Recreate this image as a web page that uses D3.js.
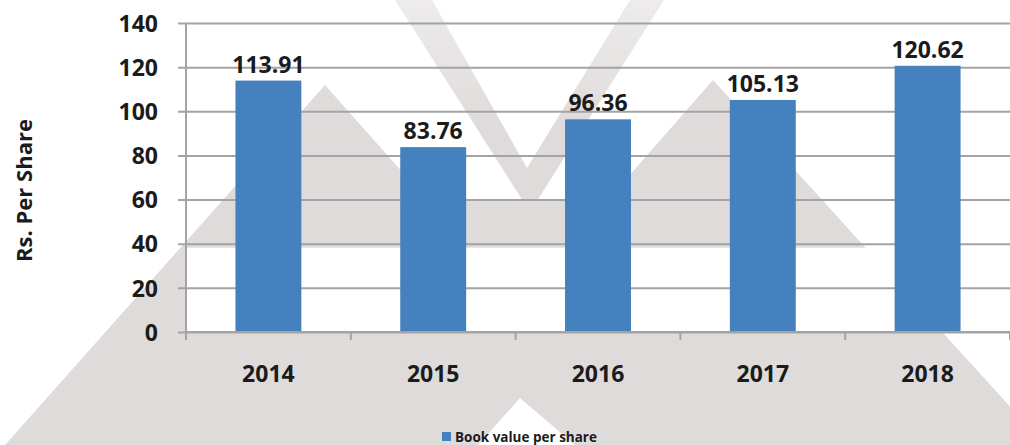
<!DOCTYPE html>
<html>
<head>
<meta charset="utf-8">
<script src="https://cdn.jsdelivr.net/npm/d3@7"></script>
<style>
  html, body { margin: 0; padding: 0; background: #ffffff; }
  svg { display: block; }
  text { font-family: "Open Sans", "Liberation Sans", sans-serif; font-weight: 700; fill: #1b1b1b; }
</style>
</head>
<body>
<div id="chart"></div>
<script>
// ---- data ----
const categories = ["2014", "2015", "2016", "2017", "2018"];
const values = [113.91, 83.76, 96.36, 105.13, 120.62];
const valueLabels = ["113.91", "83.76", "96.36", "105.13", "120.62"];
const yTicks = [0, 20, 40, 60, 80, 100, 120, 140];
const seriesName = "Book value per share";
const yTitle = "Rs. Per Share";

// ---- layout ----
const W = 1010, H = 445;
const plot = { left: 186, right: 1010, top: 23, bottom: 332 };
const barColor = "#4580bf";
const gridColor = "#a3a3a3";
const wmColor = "#dfdbdb";

const svg = d3.select("#chart").append("svg")
  .attr("width", W).attr("height", H);

// ---- background watermark (decorative) ----
const wm = svg.append("g");
const shapes = [
  // left mountain
  [[325, 85], [5, 445], [645, 445]],
  // right mountain
  [[713, 80], [393, 445], [1045, 445]],
  // connecting band under V
  [[430, 200], [600, 200], [600, 250], [430, 250]]
];
shapes.forEach(p => wm.append("polygon")
  .attr("points", p.map(d => d.join(",")).join(" "))
  .attr("fill", wmColor));
// thick V, fading toward the top
const defs = svg.append("defs");
const grad = defs.append("linearGradient").attr("id", "vfade")
  .attr("x1", 0).attr("y1", 0).attr("x2", 0).attr("y2", 1);
grad.append("stop").attr("offset", "0%").attr("stop-color", wmColor).attr("stop-opacity", 0.55);
grad.append("stop").attr("offset", "60%").attr("stop-color", wmColor).attr("stop-opacity", 1);
wm.append("polygon")
  .attr("points", "395,0 432,0 527,168 630,0 664,0 530,212")
  .attr("fill", "url(#vfade)");
// white wedge at bottom centre
wm.append("polygon").attr("points", "520,398 478,445 575,445").attr("fill", "#ffffff");

// ---- scales ----
const x = d3.scaleBand().domain(categories)
  .range([plot.left, plot.right]).paddingInner(0.6).paddingOuter(0.3);
const y = d3.scaleLinear().domain([0, 140]).range([plot.bottom, plot.top]);

// white lower plot band
svg.append("rect")
  .attr("x", plot.left).attr("y", y(40) + 4)
  .attr("width", plot.right - plot.left).attr("height", y(0) - y(40) - 4)
  .attr("fill", "#ffffff");

// ---- gridlines + y axis ----
const yAxis = d3.axisLeft(y).tickValues(yTicks)
  .tickSize(-(plot.right - plot.left + 8)).tickPadding(20).tickFormat(d3.format("d"));
const gy = svg.append("g")
  .attr("transform", `translate(${plot.left - 8},0)`)
  .call(yAxis);
gy.select(".domain").remove();
gy.selectAll(".tick line").attr("stroke", gridColor).attr("stroke-width", 2);
gy.selectAll(".tick text")
  .attr("x", -20).attr("dy", "0.36em")
  .style("font-size", "23px").attr("fill", "#1b1b1b");

// y axis line
svg.append("line")
  .attr("x1", plot.left).attr("x2", plot.left)
  .attr("y1", plot.top).attr("y2", plot.bottom + 8)
  .attr("stroke", gridColor).attr("stroke-width", 2);

// ---- bars ----
svg.append("g").selectAll("rect").data(values).join("rect")
  .attr("x", (d, i) => x(categories[i]))
  .attr("y", d => y(d))
  .attr("width", x.bandwidth())
  .attr("height", d => y(0) - y(d))
  .attr("fill", barColor);

// value labels
svg.append("g").selectAll("text").data(values).join("text")
  .attr("x", (d, i) => x(categories[i]) + x.bandwidth() / 2)
  .attr("y", d => y(d) - 8)
  .attr("text-anchor", "middle")
  .style("font-size", "23px")
  .text((d, i) => valueLabels[i]);

// ---- x axis ----
const step = x.step();
const boundaries = d3.range(categories.length + 1).map(i => plot.left + i * step);
svg.append("line")
  .attr("x1", plot.left).attr("x2", plot.right)
  .attr("y1", y(0)).attr("y2", y(0))
  .attr("stroke", gridColor).attr("stroke-width", 2);
svg.append("g").selectAll("line").data(boundaries).join("line")
  .attr("x1", d => d).attr("x2", d => d)
  .attr("y1", y(0)).attr("y2", y(0) + 8)
  .attr("stroke", gridColor).attr("stroke-width", 2);
const xAxis = d3.axisBottom(x).tickSize(0).tickPadding(0);
const gx = svg.append("g").attr("transform", `translate(0,${y(0)})`).call(xAxis);
gx.select(".domain").remove();
gx.selectAll(".tick text")
  .attr("y", 50).attr("dy", 0)
  .style("font-size", "23px").attr("fill", "#1b1b1b");

// ---- y title ----
svg.append("text")
  .attr("transform", `translate(32,${(118 + 263) / 2}) rotate(-90)`)
  .attr("text-anchor", "middle")
  .style("font-size", "22px")
  .text(yTitle);

// ---- legend ----
const lg = svg.append("g").attr("transform", "translate(442,432)");
lg.append("rect").attr("width", 9).attr("height", 9).attr("fill", barColor);
lg.append("text").attr("x", 13).attr("y", 9.5)
  .style("font-size", "13.5px").text(seriesName);
</script>
</body>
</html>
